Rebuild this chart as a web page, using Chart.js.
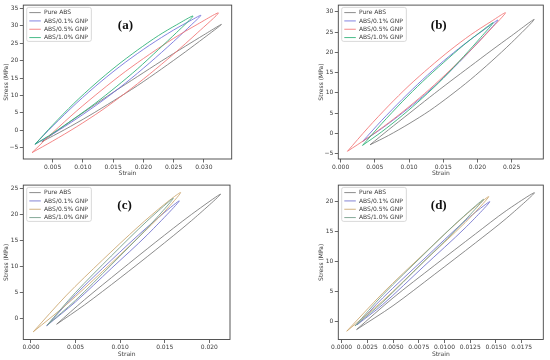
<!DOCTYPE html>
<html>
<head>
<meta charset="utf-8">
<script src="https://cdn.jsdelivr.net/npm/chart.js@4.4.1/dist/chart.umd.min.js"></script>
<style>
  body { margin: 0; background: #fff; }
  #fig { position: relative; width: 550px; height: 360px; }
  canvas { position: absolute; }
</style>
</head>
<body>
<div id="fig">
  <canvas id="pa" width="275" height="180" style="left:0;top:0"></canvas>
  <canvas id="pb" width="275" height="180" style="left:275px;top:0"></canvas>
  <canvas id="pc" width="275" height="180" style="left:0;top:180px"></canvas>
  <canvas id="pd" width="275" height="180" style="left:275px;top:180px"></canvas>
</div>
<script>
// legend labels
const nomes = ['Pure ABS', 'ABS/0.1% GNP', 'ABS/0.5% GNP', 'ABS/1.0% GNP']

// (a) [strain, stress] - loading branch then unloading branch
const aPure = [[0.0032,-3.3],[0.007,1.4],[0.011,6.2],[0.015,10.9],[0.019,15.4],[0.023,19.9],[0.027,24.2],[0.030,27.4],[0.0329,30.4],
               [0.030,26.5],[0.027,22.6],[0.023,17.6],[0.019,12.8],[0.015,8.4],[0.011,4.15],[0.007,0.2],[0.0032,-3.3]]
const a01 = [[0.0021,-4.0],[0.005,1.2],[0.009,7.9],[0.013,14.0],[0.017,19.5],[0.021,24.4],[0.025,28.8],[0.028,31.7],[0.0295,33.0],
             [0.028,30.4],[0.025,25.5],[0.021,19.3],[0.017,13.5],[0.013,8.2],[0.009,3.36],[0.005,-1.07],[0.0021,-4.0]]
const a05 = [[0.0016,-6.4],[0.005,-0.7],[0.009,5.6],[0.013,11.4],[0.017,16.85],[0.021,21.8],[0.025,26.4],[0.029,30.5],[0.0324,33.7],
             [0.029,28.1],[0.025,21.9],[0.021,16.1],[0.017,10.65],[0.013,5.6],[0.009,1.05],[0.005,-3.1],[0.0016,-6.4]]
const a10 = [[0.0021,-4.0],[0.005,1.5],[0.0085,7.7],[0.012,13.3],[0.0155,18.4],[0.019,23.0],[0.0225,27.2],[0.0255,30.3],[0.0282,32.8],
             [0.0255,28.1],[0.0225,23.2],[0.019,17.6],[0.0155,12.5],[0.012,7.7],[0.0085,3.3],[0.005,-0.86],[0.0021,-4.0]]

// (b)
const bPure = [[0.0043,-2.8],[0.007,0.9],[0.010,4.9],[0.013,8.9],[0.016,12.8],[0.019,16.6],[0.022,20.4],[0.025,24.1],[0.0283,28.1],
               [0.025,22.4],[0.022,17.7],[0.019,13.3],[0.016,9.3],[0.013,5.6],[0.010,2.4],[0.007,-0.5],[0.0043,-2.8]]
const b01 = [[0.0032,-2.0],[0.006,3.2],[0.009,8.4],[0.012,13.3],[0.015,17.8],[0.018,21.9],[0.021,25.6],[0.023,27.95],
             [0.021,24.1],[0.018,18.7],[0.015,13.7],[0.012,9.1],[0.009,5.0],[0.006,1.2],[0.0032,-2.0]]
const b05 = [[0.0010,-4.4],[0.004,1.4],[0.007,6.8],[0.010,11.8],[0.013,16.3],[0.016,20.5],[0.019,24.3],[0.022,27.6],[0.0241,29.75],
             [0.022,25.8],[0.019,20.5],[0.016,15.6],[0.013,10.9],[0.010,6.6],[0.007,2.6],[0.004,-1.05],[0.0010,-4.4]]
const b10 = [[0.0032,-2.95],[0.006,2.4],[0.009,7.8],[0.012,12.8],[0.015,17.4],[0.018,21.8],[0.0205,25.1],[0.0223,27.3],
             [0.0205,23.7],[0.018,19.0],[0.015,13.6],[0.012,8.8],[0.009,4.4],[0.006,0.4],[0.0032,-2.95]]

// (c)
const cPure = [[0.00288,-1.1],[0.006,3.6],[0.010,9.2],[0.014,14.7],[0.018,20.0],[0.02127,23.9],
               [0.018,18.8],[0.014,13.2],[0.010,7.8],[0.006,2.6],[0.00288,-1.1]]
const c01 = [[0.00176,-1.4],[0.005,4.6],[0.009,11.2],[0.013,17.5],[0.01663,22.6],
             [0.013,16.0],[0.009,9.6],[0.005,3.2],[0.00176,-1.4]]
const c05 = [[0.00026,-2.56],[0.004,4.5],[0.008,11.2],[0.012,17.6],[0.015,22.0],[0.01678,24.2],
             [0.015,20.6],[0.012,15.5],[0.008,9.0],[0.004,2.7],[0.00026,-2.56]]
const c10 = [[0.0018,-1.3],[0.005,5.0],[0.009,12.0],[0.013,18.7],[0.01596,23.1],
             [0.013,17.3],[0.009,10.3],[0.005,3.5],[0.0018,-1.3]]

// (d)
const dPure = [[0.00146,-1.39],[0.005,3.9],[0.009,9.3],[0.013,14.6],[0.016,18.5],[0.01874,21.5],
               [0.016,17.2],[0.013,13.1],[0.009,7.8],[0.005,2.6],[0.00146,-1.39]]
const d01 = [[0.0015,-0.6],[0.004,3.9],[0.008,10.4],[0.012,16.8],[0.0144,20.0],
             [0.012,15.6],[0.008,9.2],[0.004,2.8],[0.0015,-0.6]]
const d05 = [[0.0005,-1.67],[0.004,4.7],[0.008,11.3],[0.012,17.7],[0.0143,20.85],
             [0.012,16.5],[0.008,10.0],[0.004,3.4],[0.0005,-1.67]]
const d10 = [[0.0013,-0.8],[0.004,4.4],[0.008,11.2],[0.011,16.2],[0.0138,20.4],
             [0.011,15.1],[0.008,10.0],[0.004,3.2],[0.0013,-0.8]]

// tick labels
const xTicksA = [0.005, 0.010, 0.015, 0.020, 0.025, 0.030]
const yTicksA = [-5, 0, 5, 10, 15, 20, 25, 30, 35]
const xTicksB = [0.000, 0.005, 0.010, 0.015, 0.020, 0.025]
const yTicksB = [-5, 0, 5, 10, 15, 20, 25, 30]
const xTicksC = [0.000, 0.005, 0.010, 0.015, 0.020]
const yTicksC = [0, 5, 10, 15, 20, 25]
const xTicksD = [0.0000, 0.0025, 0.0050, 0.0075, 0.0100, 0.0125, 0.0150, 0.0175]
const yTicksD = [0, 5, 10, 15, 20]

const coresAB = ['rgba(120,120,120,0.85)', 'rgba(110,110,220,0.85)', 'rgba(242,115,115,0.85)', 'rgba(40,175,115,0.85)']
const coresCD = ['rgba(120,120,120,0.85)', 'rgba(110,110,205,0.85)', 'rgba(205,170,115,0.9)', 'rgba(120,160,140,0.9)']

Chart.defaults.font.family = 'DejaVu Sans'

const moldura = {
    id: 'moldura',
    afterDraw(chart, args, opt) {
        const ctx = chart.ctx
        const a = chart.chartArea
        ctx.save()
        ctx.strokeStyle = '#444'
        ctx.lineWidth = 0.9
        ctx.strokeRect(a.left, a.top, a.right - a.left, a.bottom - a.top)

        // panel letter
        ctx.font = 'bold 13px "Liberation Serif"'
        ctx.fillStyle = '#111'
        ctx.textAlign = 'center'
        ctx.textBaseline = 'middle'
        ctx.fillText(opt.letra, a.left + (a.right - a.left) * 0.49, a.top + 20.5)

        // legend box
        ctx.font = '6px "DejaVu Sans"'
        let maxW = 0
        chart.data.datasets.forEach(ds => { maxW = Math.max(maxW, ctx.measureText(ds.label).width) })
        const bx = a.left + 3.4, by = a.top + 2.3
        const bw = 17.3 + maxW + 3.5, bh = 34
        ctx.beginPath()
        ctx.roundRect(bx, by, bw, bh, 2)
        ctx.fillStyle = 'rgba(255,255,255,0.8)'
        ctx.fill()
        ctx.strokeStyle = '#cfcfcf'
        ctx.lineWidth = 0.8
        ctx.stroke()
        ctx.textAlign = 'left'
        chart.data.datasets.forEach((ds, i) => {
            const y = a.top + 7.5 + i * 8.33
            ctx.strokeStyle = ds.borderColor
            ctx.lineWidth = 1
            ctx.beginPath()
            ctx.moveTo(a.left + 6, y)
            ctx.lineTo(a.left + 17.5, y)
            ctx.stroke()
            ctx.fillStyle = '#3a3a3a'
            ctx.fillText(ds.label, a.left + 20.7, y + 0.3)
        })
        ctx.restore()
    }
}

function fmtY(v) {
    return v < 0 ? '\u2212' + Math.abs(v) : String(v)
}

function criarPainel(id, series, cores, cfg) {
    const ctx = document.getElementById(id).getContext('2d')
    const datasets = series.map((s, i) => ({
        label: nomes[i],
        data: s.map(p => ({ x: p[0], y: p[1] })),
        showLine: true,
        borderColor: cores[i],
        backgroundColor: cores[i],
        borderWidth: 1,
        pointRadius: 0,
        tension: 0.3,
        order: 3 - i
    }))

    const eixo = {
        font: { size: 6, family: 'DejaVu Sans' },
        color: '#3a3a3a'
    }

    new Chart(ctx, {
        type: 'scatter',
        data: { datasets: datasets },
        options: {
            responsive: false,
            animation: false,
            devicePixelRatio: 1,
            layout: {
                padding: { left: cfg.area[0] - 20.5, right: 275 - cfg.area[1], top: cfg.area[2], bottom: 180 - cfg.area[3] - 18.3 }
            },
            plugins: {
                legend: { display: false },
                tooltip: { enabled: false },
                moldura: { letra: cfg.letra }
            },
            scales: {
                x: {
                    type: 'linear',
                    min: cfg.x[0],
                    max: cfg.x[1],
                    afterBuildTicks: s => { s.ticks = cfg.xt.map(v => ({ value: v })) },
                    afterFit: s => { s.height = 18.3 },
                    ticks: { ...eixo, padding: 1, maxRotation: 0, autoSkip: false, callback: v => v.toFixed(cfg.dec) },
                    grid: { drawOnChartArea: false, drawTicks: true, tickLength: 3.5, color: '#444', lineWidth: 0.8 },
                    border: { display: false },
                    title: { display: true, text: 'Strain', ...eixo, padding: 0 }
                },
                y: {
                    type: 'linear',
                    min: cfg.y[0],
                    max: cfg.y[1],
                    afterBuildTicks: s => { s.ticks = cfg.yt.map(v => ({ value: v })) },
                    afterFit: s => { s.width = 20.5 },
                    ticks: { ...eixo, padding: 1.5, autoSkip: false, callback: v => fmtY(v) },
                    grid: { drawOnChartArea: false, drawTicks: true, tickLength: 3.5, color: '#444', lineWidth: 0.8 },
                    border: { display: false },
                    title: { display: true, text: 'Stress (MPa)', ...eixo, padding: 0 }
                }
            }
        },
        plugins: [moldura]
    })
}

criarPainel('pa', [aPure, a01, a05, a10], coresAB, {
    letra: '(a)', area: [23.3, 231.7, 5, 159], x: [0.00015, 0.0346], y: [-8.24, 35.95], xt: xTicksA, yt: yTicksA, dec: 3
})
criarPainel('pb', [bPure, b01, b05, b10], coresAB, {
    letra: '(b)', area: [63.3, 268.3, 5, 159], x: [-0.00034, 0.02963], y: [-6.3, 31.64], xt: xTicksB, yt: yTicksB, dec: 3
})
criarPainel('pc', [cPure, c01, c05, c10], coresCD, {
    letra: '(c)', area: [23.3, 230, 5, 159.5], x: [-0.00086, 0.02232], y: [-4.04, 25.64], xt: xTicksC, yt: yTicksC, dec: 3
})
criarPainel('pd', [dPure, d01, d05, d10], coresCD, {
    letra: '(d)', area: [63.3, 268.3, 5, 159.5], x: [-0.00032, 0.0196], y: [-3.06, 22.78], xt: xTicksD, yt: yTicksD, dec: 4
})
</script>
</body>
</html>
